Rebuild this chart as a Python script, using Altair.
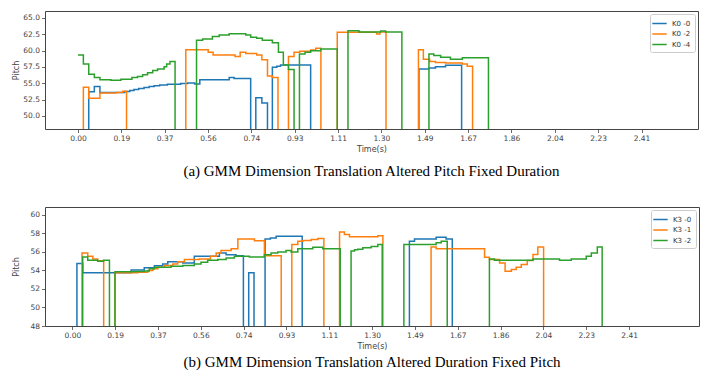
import altair as alt
import pandas as pd

# ---------------- Panel (a): K0 series ----------------
a_names = ["K0 -0", "K0 -2", "K0 -4"]
a_k0_0_t = [0.0, 0.046, 0.070, 0.094, 0.200, 0.222, 0.240, 0.260, 0.283, 0.305, 0.326, 0.350, 0.383,
            0.440, 0.470, 0.500, 0.522, 0.648, 0.669, 0.740, 0.762, 0.788, 0.812, 0.833, 0.852, 0.868,
            0.997, 1.461, 1.504, 1.532, 1.575, 1.644]
a_k0_0_p = [0, 53.7, 54.5, 53.6, 53.75, 53.9, 54.05, 54.2, 54.35, 54.5, 54.62, 54.75, 54.85,
            54.95, 55.05, 54.9, 55.55, 55.9, 55.75, 0, 52.8, 52.0, 0, 57.45, 57.6, 57.8,
            0, 57.2, 57.35, 57.55, 57.75, 0]
a_k0_2_t = [0.0, 0.023, 0.046, 0.094, 0.163, 0.191, 0.208, 0.462, 0.558, 0.579, 0.673, 0.695, 0.719,
            0.766, 0.788, 0.812, 0.833, 0.857, 0.902, 0.926, 0.950, 0.997, 1.019, 1.041, 1.111, 1.280,
            1.294, 1.320, 1.459, 1.480, 1.507, 1.532, 1.575, 1.647, 1.668, 1.691]
a_k0_2_p = [0, 54.4, 52.7, 53.5, 53.6, 53.8, 0, 60.15, 59.75, 59.35, 59.1, 59.75, 59.55,
            59.35, 58.6, 56.1, 55.9, 0, 59.1, 59.75, 59.9, 60.1, 60.35, 0, 62.8, 62.55,
            62.85, 0, 60.15, 58.7, 58.35, 58.2, 58.1, 57.95, 57.6, 0]
a_k0_4_t = [0.0, 0.023, 0.046, 0.070, 0.094, 0.141, 0.184, 0.231, 0.255, 0.277, 0.298, 0.320, 0.341,
            0.369, 0.380, 0.394, 0.416, 0.508, 0.534, 0.576, 0.605, 0.648, 0.719, 0.740, 0.766, 0.790,
            0.833, 0.859, 0.880, 0.902, 0.926, 0.949, 0.973, 0.997, 1.040, 1.111, 1.157, 1.204, 1.297,
            1.318, 1.388, 1.504, 1.525, 1.554, 1.596, 1.647, 1.759]
a_k0_4_p = [59.35, 57.95, 56.4, 55.9, 55.55, 55.45, 55.6, 55.9, 56.05, 56.3, 56.6, 56.95, 57.2,
            57.55, 57.95, 58.35, 0, 61.6, 61.8, 62.15, 62.4, 62.6, 62.4, 62.05, 61.9, 61.6,
            61.2, 59.75, 57.8, 57.1, 0, 59.5, 59.75, 60.0, 60.25, 0, 63.05, 62.85, 63.0,
            62.85, 0, 59.5, 59.25, 59.0, 58.7, 58.9, 0]

# ---------------- Panel (b): K3 series ----------------
b_names = ["K3 -0", "K3 -1", "K3 -2"]
b_k3_0_t = [0.0, 0.020, 0.045, 0.255, 0.312, 0.356, 0.392, 0.414, 0.479, 0.529, 0.638, 0.667, 0.710,
            0.742, 0.765, 0.788, 0.836, 0.859, 0.884, 0.997, 1.462, 1.484, 1.578, 1.621, 1.648]
b_k3_0_p = [0, 54.75, 53.75, 54.05, 54.3, 54.5, 54.7, 54.95, 54.8, 55.55, 55.9, 55.7, 55.6,
            0, 53.75, 0, 57.4, 57.5, 57.7, 0, 57.15, 57.4, 57.6, 57.4, 0]
b_k3_1_t = [0.0, 0.042, 0.067, 0.089, 0.110, 0.136, 0.185, 0.284, 0.327, 0.349, 0.371, 0.399, 0.436,
            0.457, 0.486, 0.551, 0.599, 0.624, 0.645, 0.689, 0.718, 0.790, 0.833, 0.906, 0.952, 0.978,
            1.000, 1.036, 1.065, 1.091, 1.159, 1.180, 1.202, 1.325, 1.347, 1.556, 1.578, 1.788, 1.809,
            1.853, 1.877, 1.904, 1.925, 1.947, 1.973, 1.998, 2.019, 2.044]
b_k3_1_p = [0, 55.9, 55.55, 55.25, 55.05, 0, 53.75, 53.8, 54.0, 54.2, 54.35, 54.55, 54.7,
            54.95, 55.2, 55.25, 55.55, 55.9, 56.15, 56.35, 57.4, 57.2, 55.6, 0, 56.8, 57.15,
            57.25, 57.35, 57.45, 0, 58.15, 57.9, 57.65, 57.75, 0, 56.55, 56.35, 55.43, 55.2,
            54.8, 53.93, 54.1, 54.36, 54.65, 55.08, 55.72, 56.55, 0]
b_k3_2_t = [0.0, 0.045, 0.067, 0.110, 0.135, 0.161, 0.185, 0.269, 0.312, 0.334, 0.356, 0.428, 0.479,
            0.529, 0.558, 0.587, 0.631, 0.667, 0.703, 0.768, 0.833, 0.862, 0.891, 0.927, 0.949, 0.978,
            1.043, 1.086, 1.162, 1.209, 1.224, 1.238, 1.260, 1.296, 1.325, 1.344, 1.438, 1.578, 1.600,
            1.626, 1.809, 1.831, 1.998, 2.113, 2.164, 2.229, 2.251, 2.277, 2.298]
b_k3_2_p = [0, 55.45, 55.1, 55.0, 55.1, 0, 53.85, 53.9, 53.95, 54.2, 54.35, 54.45, 54.55,
            54.7, 54.9, 55.1, 55.2, 55.35, 55.55, 55.45, 55.7, 55.9, 56.0, 56.15, 56.0, 56.35,
            56.5, 56.35, 0, 56.1, 56.25, 56.3, 56.45, 56.6, 56.8, 0, 56.8, 57.0, 57.15,
            0, 55.25, 55.1, 55.25, 55.1, 55.25, 55.55, 55.9, 56.55, 0]

colors = ["#1f77b4", "#ff7f0e", "#2ca02c"]
x_ticks = [0.0, 0.18576, 0.37152, 0.55728, 0.74304, 0.9288, 1.11456, 1.30032,
           1.48608, 1.67184, 1.8576, 2.04336, 2.22912, 2.41488]
a_y_ticks = [50.0, 52.5, 55.0, 57.5, 60.0, 62.5, 65.0]
b_y_ticks = [48, 50, 52, 54, 56, 58, 60]


def make_frame(names, ts_list, ps_list):
    rows = []
    for name, ts, ps in zip(names, ts_list, ps_list):
        for i, (t, p) in enumerate(zip(ts, ps)):
            rows.append({"t": t, "pitch": p, "series": name, "i": i})
    return pd.DataFrame(rows)


df_a = make_frame(a_names, [a_k0_0_t, a_k0_2_t, a_k0_4_t], [a_k0_0_p, a_k0_2_p, a_k0_4_p])
df_b = make_frame(b_names, [b_k3_0_t, b_k3_1_t, b_k3_2_t], [b_k3_0_p, b_k3_1_p, b_k3_2_p])


def panel(df, names, xdom, ydom, yticks, yfmt, w, h, caption, cap_offset):
    return alt.Chart(df).mark_line(interpolate="step-after", clip=True, strokeWidth=1.5).encode(
        x=alt.X("t:Q", scale=alt.Scale(domain=xdom, nice=False, zero=False),
                axis=alt.Axis(values=x_ticks, format=".2f", title="Time(s)")),
        y=alt.Y("pitch:Q", scale=alt.Scale(domain=ydom, nice=False, zero=False),
                axis=alt.Axis(values=yticks, format=yfmt, title="Pitch",
                              minExtent=22, maxExtent=22)),
        color=alt.Color("series:N", scale=alt.Scale(domain=names, range=colors),
                        legend=alt.Legend(title=None)),
        order=alt.Order("i:Q"),
    ).properties(
        width=w, height=h,
        title=alt.TitleParams(caption, orient="bottom", anchor="middle", font="Liberation Serif",
                              fontSize=15, fontWeight="normal", color="#000", offset=cap_offset),
    )


pa = panel(df_a, a_names, [-0.1414, 2.657], [48.0, 66.07], a_y_ticks, ".1f", 653, 118,
           "(a) GMM Dimension Translation Altered Pitch Fixed Duration", 11)
pb = panel(df_b, b_names, [-0.1185, 2.718], [48.0, 60.86], b_y_ticks, "d", 654, 119,
           "(b) GMM Dimension Translation Altered Duration Fixed Pitch", 5)

chart = alt.vconcat(pa, pb, spacing=26).resolve_scale(
    color="independent"
).properties(
    padding={"left": 3, "top": 2, "right": 0, "bottom": 0}
).configure_view(
    stroke="#444", strokeWidth=1
).configure_axis(
    grid=False, domain=False, tickColor="#444", tickSize=3.5, tickWidth=0.8,
    labelFont="DejaVu Sans", labelFontSize=7.5, labelColor="#444", labelPadding=2,
    titleFont="DejaVu Sans", titleFontSize=8, titleFontWeight="normal", titleColor="#444",
    titlePadding=3
).configure_legend(
    orient="top-right", offset=3, padding=4, fillColor="white", strokeColor="#ccc",
    cornerRadius=2, labelFont="DejaVu Sans", labelFontSize=7, labelColor="#333",
    symbolType="M-1.6,0H1.6", symbolSize=81, symbolStrokeWidth=1.5, rowPadding=1.5,
    labelOffset=7
)

chart.save("out.html", embed_options={"renderer": "svg", "actions": False})
